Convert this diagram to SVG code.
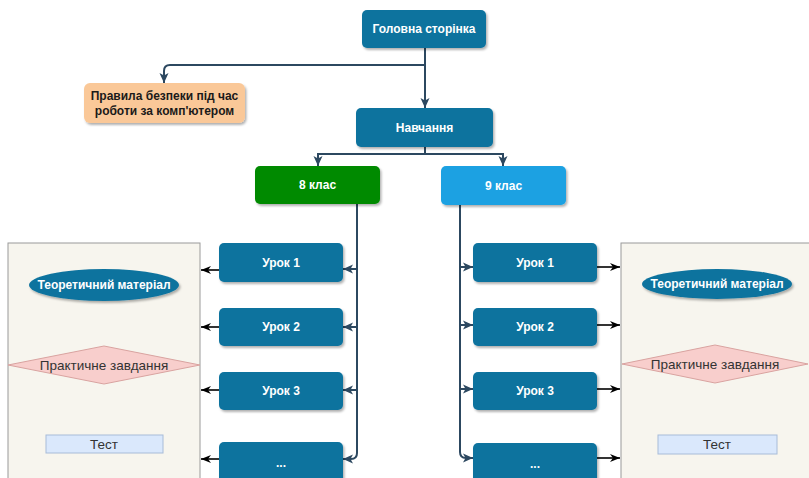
<svg xmlns="http://www.w3.org/2000/svg" width="809" height="478" viewBox="0 0 809 478">
<defs>
<filter id="sh" x="-10%" y="-10%" width="130%" height="140%">
<feDropShadow dx="1.5" dy="2" stdDeviation="1.2" flood-color="#000" flood-opacity="0.3"/>
</filter>
<marker id="dk" viewBox="0 0 10 10" refX="10" refY="5" markerWidth="10" markerHeight="10" markerUnits="userSpaceOnUse" orient="auto">
<path d="M0,0.5 L10,5 L0,9.5 L2.5,5 Z" fill="#2C4860"/>
</marker>
<marker id="bk" viewBox="0 0 10 10" refX="10" refY="5" markerWidth="10" markerHeight="10" markerUnits="userSpaceOnUse" orient="auto">
<path d="M0,1 L10,5 L0,9 L3,5 Z" fill="#000"/>
</marker>
</defs>
<style>
.n{fill:#10739E;filter:url(#sh)}
.t{font-family:"Liberation Sans",Arial,sans-serif;font-weight:bold;font-size:12px;fill:#fff;text-anchor:middle;dominant-baseline:central}
.tr{font-family:"Liberation Sans",Arial,sans-serif;font-size:13.5px;fill:#333;text-anchor:middle;dominant-baseline:central}
.c{fill:none;stroke:#2C4860;stroke-width:2;marker-end:url(#dk)}
.cb{fill:none;stroke:#000;stroke-width:1.6;marker-end:url(#bk)}
.panel{fill:#F7F5EE;stroke:#9a9a9a;stroke-width:1}
.dia{fill:#F8CECC;stroke:#D9A3A0;stroke-width:1}
.test{fill:#DAE8FC;stroke:#A8BCD8;stroke-width:1}
.ell{fill:#10739E;filter:url(#sh)}
</style>
<rect width="809" height="478" fill="#fff"/>

<g id="panel-left">
<rect class="panel" x="8" y="243" width="192" height="240"/>
<ellipse class="ell" cx="104" cy="285" rx="75" ry="16"/>
<text class="t" x="104" y="285">Теоретичний матеріал</text>
<polygon class="dia" points="8,365 104,346 200,365 104,384"/>
<text class="tr" x="104" y="365">Практичне завдання</text>
<rect class="test" x="46" y="435" width="117" height="18"/>
<text class="tr" x="104" y="444">Тест</text>
</g>

<g id="panel-right">
<rect class="panel" x="621" y="243" width="200" height="240"/>
<ellipse class="ell" cx="717" cy="284" rx="75" ry="15"/>
<text class="t" x="717" y="284">Теоретичний матеріал</text>
<polygon class="dia" points="622,364 715,345 808,364 715,383"/>
<text class="tr" x="715" y="364">Практичне завдання</text>
<rect class="test" x="658" y="435" width="119" height="19"/>
<text class="tr" x="717" y="444">Тест</text>
</g>

<g id="connectors">
<path class="c" d="M425,48 V108"/>
<path class="c" d="M425,65 H170 Q164,65 164,71 V83"/>
<path class="c" d="M425,147 V154 H318 V166"/>
<path class="c" d="M425,154 H503 V166"/>
<path class="c" d="M357,204 V453 Q357,459 351,459 H343"/>
<path class="c" d="M357,269 H343"/>
<path class="c" d="M357,327 H343"/>
<path class="c" d="M357,390 H343"/>
<path class="c" d="M460,205 V452 Q460,458 466,458 H473"/>
<path class="c" d="M460,267 H473"/>
<path class="c" d="M460,325 H473"/>
<path class="c" d="M460,389 H473"/>
<path class="cb" d="M219,270 H201"/>
<path class="cb" d="M219,327 H201"/>
<path class="cb" d="M219,390 H201"/>
<path class="cb" d="M219,459 H201"/>
<path class="cb" d="M597,267 H620"/>
<path class="cb" d="M597,325 H620"/>
<path class="cb" d="M597,389 H620"/>
<path class="cb" d="M597,458 H620"/>
</g>

<g id="home">
<rect class="n" x="362" y="10" width="124" height="38" rx="5"/>
<text class="t" x="424" y="29">Головна сторінка</text>
</g>
<g id="rules">
<rect x="84" y="83" width="161" height="40" rx="6" fill="#FAC898" style="filter:url(#sh)"/>
<text class="t" style="fill:#1a1a1a" x="164.5" y="96">Правила безпеки під час</text>
<text class="t" style="fill:#1a1a1a" x="164.5" y="111">роботи за комп'ютером</text>
</g>
<g id="study">
<rect class="n" x="356" y="108" width="137" height="39" rx="5"/>
<text class="t" x="424.5" y="128">Навчання</text>
</g>
<g id="class8">
<rect x="255" y="166" width="125" height="38" rx="5" fill="#008A00" style="filter:url(#sh)"/>
<text class="t" x="317.5" y="185">8 клас</text>
</g>
<g id="class9">
<rect x="441" y="166" width="125" height="39" rx="5" fill="#1BA1E2" style="filter:url(#sh)"/>
<text class="t" x="503.5" y="185.5">9 клас</text>
</g>

<g id="l8-1"><rect class="n" x="219" y="243" width="124" height="39" rx="5"/><text class="t" x="281" y="262.5">Урок 1</text></g>
<g id="l8-2"><rect class="n" x="219" y="308" width="124" height="38" rx="5"/><text class="t" x="281" y="327">Урок 2</text></g>
<g id="l8-3"><rect class="n" x="219" y="372" width="124" height="38" rx="5"/><text class="t" x="281" y="391">Урок 3</text></g>
<g id="l8-4"><rect class="n" x="219" y="442" width="124" height="45" rx="5"/><text class="t" x="281" y="463">...</text></g>

<g id="l9-1"><rect class="n" x="473" y="243" width="124" height="39" rx="5"/><text class="t" x="535" y="262.5">Урок 1</text></g>
<g id="l9-2"><rect class="n" x="473" y="308" width="124" height="38" rx="5"/><text class="t" x="535" y="327">Урок 2</text></g>
<g id="l9-3"><rect class="n" x="473" y="372" width="124" height="38" rx="5"/><text class="t" x="535" y="391">Урок 3</text></g>
<g id="l9-4"><rect class="n" x="473" y="443" width="124" height="45" rx="5"/><text class="t" x="535" y="464">...</text></g>
</svg>
